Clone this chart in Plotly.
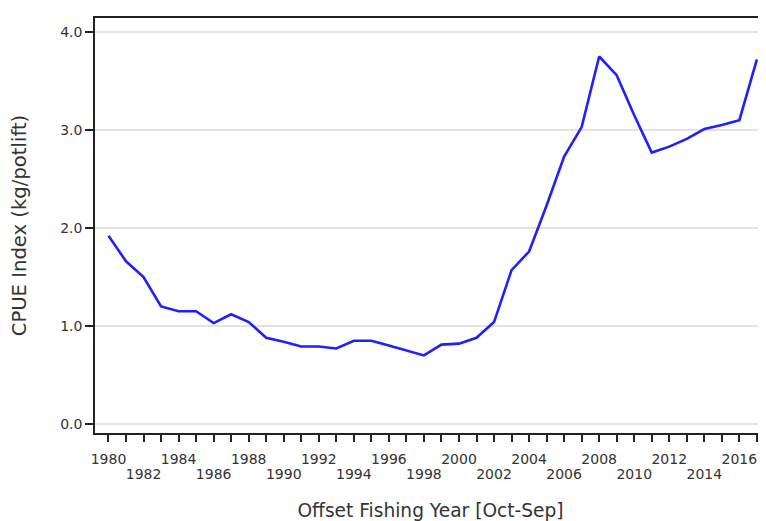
import plotly.graph_objects as go

years = list(range(1980, 2018))
cpue = [1.92, 1.66, 1.50, 1.20, 1.15, 1.15, 1.03, 1.12, 1.04, 0.88,
        0.84, 0.79, 0.79, 0.77, 0.85, 0.85, 0.80, 0.75, 0.70, 0.81,
        0.82, 0.88, 1.04, 1.57, 1.76, 2.23, 2.73, 3.03, 3.75, 3.56,
        3.15, 2.77, 2.83, 2.91, 3.01, 3.05, 3.10, 3.72]

tick_years = list(range(1980, 2018))
row1_text = [str(y) if y % 4 == 0 else "" for y in tick_years]
row2_years = [y for y in tick_years if y % 4 == 2]
row2_text = [str(y) for y in row2_years]

y_ticks = [0.0, 1.0, 2.0, 3.0, 4.0]
y_text = ["0.0", "1.0", "2.0", "3.0", "4.0"]

font = "DejaVu Sans, sans-serif"
x_range = [1979.23, 2017.52]

fig = go.Figure()
fig.add_trace(go.Scatter(x=years, y=cpue, mode="lines",
                         line=dict(color="#1f1fff", width=2.6),
                         showlegend=False))
fig.add_trace(go.Scatter(x=years, y=cpue, mode="lines", xaxis="x2",
                         line=dict(color="rgba(0,0,0,0)", width=0),
                         hoverinfo="skip", showlegend=False))

fig.update_layout(
    width=758, height=513,
    margin=dict(l=87, r=0, t=10, b=88),
    paper_bgcolor="white", plot_bgcolor="white",
    font=dict(family=font, size=14, color="#333333"),
    xaxis=dict(
        automargin=False,
        range=x_range,
        tickvals=tick_years, ticktext=row1_text, tickangle=0,
        ticks="outside", ticklen=7, tickwidth=1.5, tickcolor="#222222",
        ticklabelstandoff=5,
        showline=True, linecolor="#222222", linewidth=1.6, mirror=True,
        showgrid=False, zeroline=False,
        tickfont=dict(size=14, color="#333333"),
        title=dict(text="Offset Fishing Year [Oct-Sep]",
                   font=dict(size=18.6, color="#333333"), standoff=38),
    ),
    xaxis2=dict(
        automargin=False,
        overlaying="x", anchor="y", side="bottom",
        range=x_range,
        tickvals=row2_years, ticktext=row2_text, tickangle=0,
        ticks="outside", ticklen=7, tickwidth=1.5, tickcolor="rgba(0,0,0,0)",
        ticklabelstandoff=21,
        showline=False, showgrid=False, zeroline=False,
        tickfont=dict(size=14, color="#333333"),
    ),
    yaxis=dict(
        automargin=False,
        range=[-0.092, 4.143],
        tickvals=y_ticks, ticktext=y_text,
        ticks="outside", ticklen=8, tickwidth=1.5, tickcolor="#222222",
        showline=True, linecolor="#222222", linewidth=1.6,
        showgrid=True, gridcolor="#e3e3e3", gridwidth=1.6,
        zeroline=False,
        tickfont=dict(size=14, color="#333333"),
        title=dict(text="CPUE Index (kg/potlift)",
                   font=dict(size=19.6, color="#333333"), standoff=28),
    ),
)

fig.write_html("out.html")
